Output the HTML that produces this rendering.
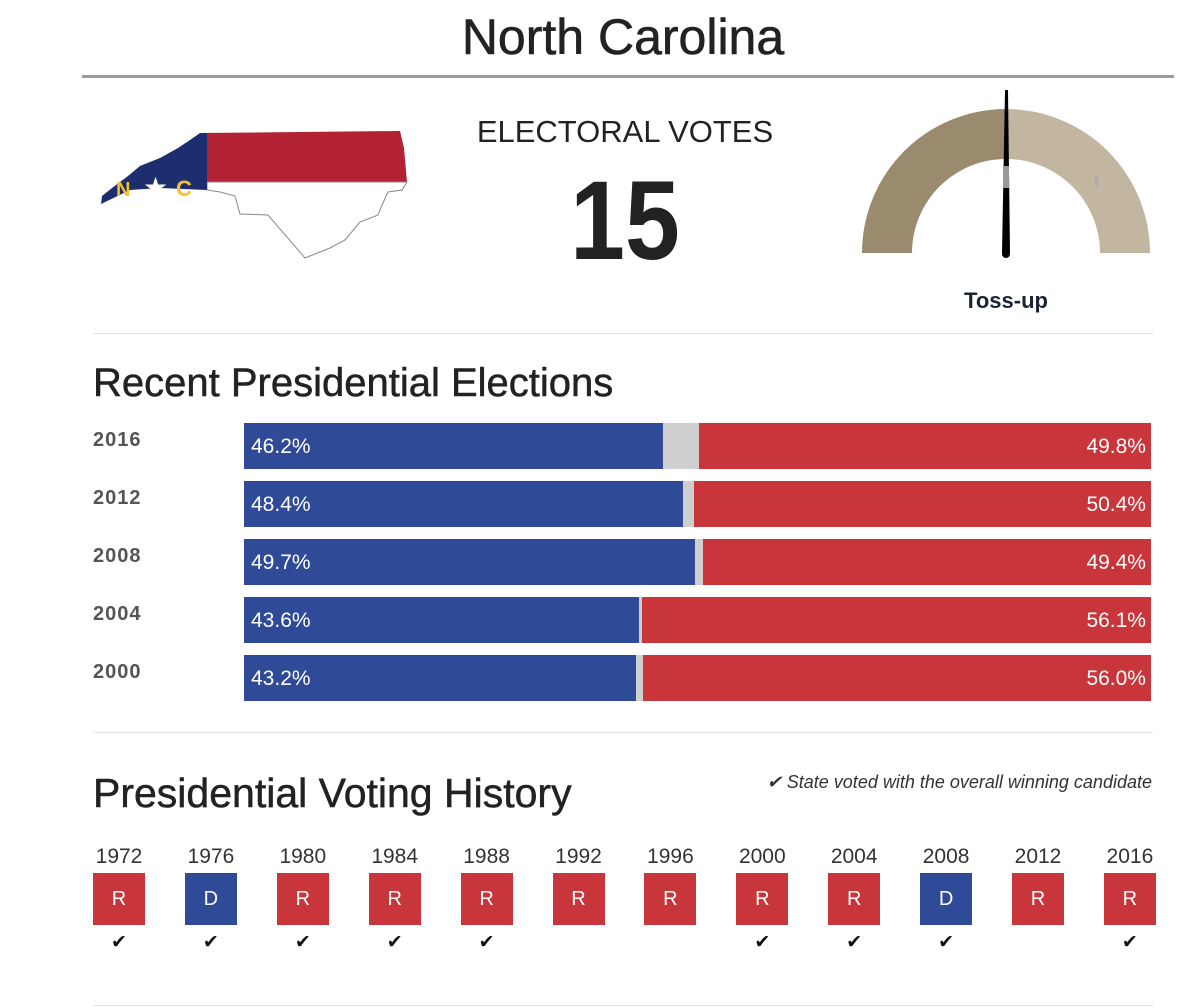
<!DOCTYPE html>
<html><head><meta charset="utf-8">
<style>
body{margin:0;width:1200px;height:1008px;background:#fff;font-family:"Liberation Sans",sans-serif;color:#222;position:relative;overflow:hidden}
.abs{position:absolute}
</style></head><body>
<div class="abs" style="left:0;width:1246px;top:8px;text-align:center;font-size:50px;color:#222;-webkit-text-stroke:0.6px #222">North Carolina</div>
<div class="abs" style="left:82px;top:75px;width:1092px;height:3px;background:#9a9a9a"></div>

<svg class="abs" style="left:95px;top:125px" width="320" height="140" viewBox="95 125 320 140">
<polygon points="200,133 400,131 404,148 407,182 207,182" fill="#b22234"/>
<polygon points="207,182 407,182 402,190 388,192 382,205 378,215 360,222 345,240 330,248 305,258 268,215 240,214 235,196 220,192 207,190" fill="#fff" stroke="#888" stroke-width="1"/>
<polygon points="200,133 207,133 207,190 160,188 130,190 101,204 102,196 112,188 128,176 140,166 160,158 178,148 190,140" fill="#1d2e6e"/>
<text x="116" y="196" font-size="20" font-weight="bold" fill="#f2c230">N</text>
<text x="143" y="197" font-size="28" fill="#fff">★</text>
<text x="176" y="196" font-size="22" font-weight="bold" fill="#f2c230">C</text>
</svg>

<div class="abs" style="left:425px;width:400px;top:114px;text-align:center;font-size:31px;color:#222;white-space:nowrap">ELECTORAL VOTES</div>
<div class="abs" style="left:425px;width:400px;top:165px;text-align:center;font-size:112px;line-height:1;font-weight:bold;color:#222;transform:scaleX(0.88)">15</div>

<svg class="abs" style="left:850px;top:85px" width="320" height="180" viewBox="850 85 320 180">
<path d="M862,253 A144,144 0 0 1 1006,109 L1006,159 A94,94 0 0 0 912,253 Z" fill="#9a8a6e"/>
<path d="M1006,109 A144,144 0 0 1 1150,253 L1100,253 A94,94 0 0 0 1006,159 Z" fill="#c3b6a0"/>
<rect x="1095" y="175" width="3" height="12" fill="#aab"/>
<polygon points="1005,90 1008,90 1010,253 1002,253" fill="#000"/>
<rect x="1003" y="166" width="6" height="22" fill="#999"/>
<circle cx="1006" cy="254" r="4" fill="#000"/>
</svg>
<div class="abs" style="left:906px;width:200px;top:288px;text-align:center;font-size:22px;font-weight:bold;color:#1a2433">Toss-up</div>

<div class="abs" style="left:93px;top:333px;width:1060px;height:1px;background:#e0e0e6"></div>
<div class="abs" style="left:93px;top:361px;font-size:40px;color:#222;-webkit-text-stroke:0.5px #222">Recent Presidential Elections</div>
<div id="bars"></div>

<div class="abs" style="left:93px;top:732px;width:1060px;height:1px;background:#e0e0e6"></div>
<div class="abs" style="left:93px;top:770px;font-size:41px;color:#222;-webkit-text-stroke:0.5px #222">Presidential Voting History</div>
<div class="abs" style="right:48px;top:772px;font-size:18px;font-style:italic;color:#333">✔ State voted with the overall winning candidate</div>
<div id="hist"></div>
<div class="abs" style="left:93px;top:1005px;width:1060px;height:1px;background:#e0e0e6"></div>

<script>
const years=["2016","2012","2008","2004","2000"];
const demPct=[46.2,48.4,49.7,43.6,43.2];
const repPct=[49.8,50.4,49.4,56.1,56.0];
const histYears=["1972","1976","1980","1984","1988","1992","1996","2000","2004","2008","2012","2016"];
const histParty=["R","D","R","R","R","R","R","R","R","D","R","R"];
const histWinner=[1,1,1,1,1,0,0,1,1,1,0,1];

const X0=244,W=907;
const xs=v=>v/100*W;
const bars=document.getElementById('bars');
years.forEach((y,i)=>{
  const top=423+i*58;
  const lab=document.createElement('div');
  
  
  lab.className='abs';lab.style.cssText=`left:93px;top:${top+6}px;font-size:20px;letter-spacing:1px;font-weight:bold;color:#555`;
  lab.textContent=y;bars.appendChild(lab);
  const g=document.createElement('div');
  
  
  g.className='abs';g.style.cssText=`left:${X0}px;top:${top}px;width:${W}px;height:46px;background:#cfcfcf`;bars.appendChild(g);
  const d=document.createElement('div');
  
  
  d.className='abs';d.style.cssText=`left:${X0}px;top:${top}px;width:${xs(demPct[i])}px;height:46px;background:#2f4a97;color:#fff;font-size:21px;line-height:48px;box-sizing:border-box;padding-left:7px`;
  d.textContent=demPct[i].toFixed(1)+'%';bars.appendChild(d);
  const r=document.createElement('div');
  
  
  r.className='abs';r.style.cssText=`left:${X0+W-xs(repPct[i])}px;top:${top}px;width:${xs(repPct[i])}px;height:46px;background:#c8363b;color:#fff;font-size:21px;line-height:48px;box-sizing:border-box;padding-right:5px;text-align:right`;
  r.textContent=repPct[i].toFixed(1)+'%';bars.appendChild(r);
});
const hist=document.getElementById('hist');
histYears.forEach((y,i)=>{
  const left=93+i*91.9;
  const t=document.createElement('div');
  
  
  t.className='abs';t.style.cssText=`left:${left-10}px;width:72px;top:845px;text-align:center;font-size:21px;color:#333`;
  t.textContent=y;hist.appendChild(t);
  const b=document.createElement('div');
  
  
  b.className='abs';b.style.cssText=`left:${left}px;top:873px;width:52px;height:52px;background:${histParty[i]=='D'?'#2f4a97':'#c8363b'};color:#fff;font-size:20px;line-height:52px;text-align:center`;
  b.textContent=histParty[i];hist.appendChild(b);
  if(histWinner[i]){
    const c=document.createElement('div');
    
    
    c.className='abs';c.style.cssText=`left:${left}px;width:52px;top:931px;text-align:center;font-size:19px;color:#111`;
    c.textContent='✔';hist.appendChild(c);
  }
});
</script>
</body></html>
